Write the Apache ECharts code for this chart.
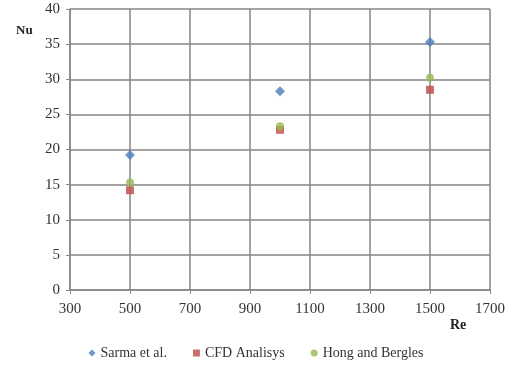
<!DOCTYPE html>
<html><head><meta charset="utf-8">
<script src="https://cdn.jsdelivr.net/npm/echarts@6/dist/echarts.min.js"></script>
<style>html,body{margin:0;padding:0;background:#fff}#c{width:512px;height:366px}</style>
</head><body><div id="c"></div>
<script>
const reValues = [500, 1000, 1500];
const sarma = [19.2, 28.3, 35.3];
const cfd = [14.2, 22.8, 28.5];
const hong = [15.3, 23.3, 30.2];
const seriesNames = ['Sarma et al.', 'CFD Analisys', 'Hong and Bergles'];
const xTitle = 'Re';
const yTitle = 'Nu';

const font = 'Liberation Serif, Times New Roman, serif';
const chart = echarts.init(document.getElementById('c'));
function pts(v){ return reValues.map((x,i)=>[x, v[i]]); }
chart.setOption({
  animation:false,
  textStyle:{fontFamily:font},
  grid:{left:70,right:22,top:9,bottom:76},
  graphic:[
    {type:'text',left:16,top:24,style:{text:yTitle,font:'bold 13px '+font,fill:'#222'}},
    {type:'text',left:450,top:318,style:{text:xTitle,font:'bold 14px '+font,fill:'#222'}}
  ],
  xAxis:{type:'value',min:300,max:1700,interval:200,
    axisLine:{show:true,lineStyle:{color:'#888',width:1.5}},
    axisTick:{show:true,length:4,lineStyle:{color:'#888'}},
    axisLabel:{fontFamily:font,fontSize:15,color:'#333',margin:12,formatter:v=>String(v)},
    splitLine:{show:true,lineStyle:{color:'#858585',width:1.5}}},
  yAxis:{type:'value',min:0,max:40,interval:5,
    axisLine:{show:true,lineStyle:{color:'#888',width:1.5}},
    axisTick:{show:true,length:4,lineStyle:{color:'#888'}},
    axisLabel:{fontFamily:font,fontSize:15,color:'#333',margin:10},
    splitLine:{show:true,lineStyle:{color:'#858585',width:1.5}}},
  legend:{bottom:1,left:'center',itemWidth:7,itemHeight:7,itemGap:26,
    textStyle:{fontFamily:font,fontSize:14,color:'#333'},
    data:[{name:seriesNames[0],icon:'diamond'},{name:seriesNames[1],icon:'rect'},{name:seriesNames[2],icon:'circle'}]},
  series:[
    {name:seriesNames[0],type:'scatter',symbol:'diamond',symbolSize:10,data:pts(sarma),itemStyle:{color:'#4a7ebb'}},
    {name:seriesNames[1],type:'scatter',symbol:'rect',symbolSize:8,data:pts(cfd),itemStyle:{color:'#be4b48'}},
    {name:seriesNames[2],type:'scatter',symbol:'circle',symbolSize:8,data:pts(hong),itemStyle:{color:'#98b954'}}
  ]
});
</script></body></html>
